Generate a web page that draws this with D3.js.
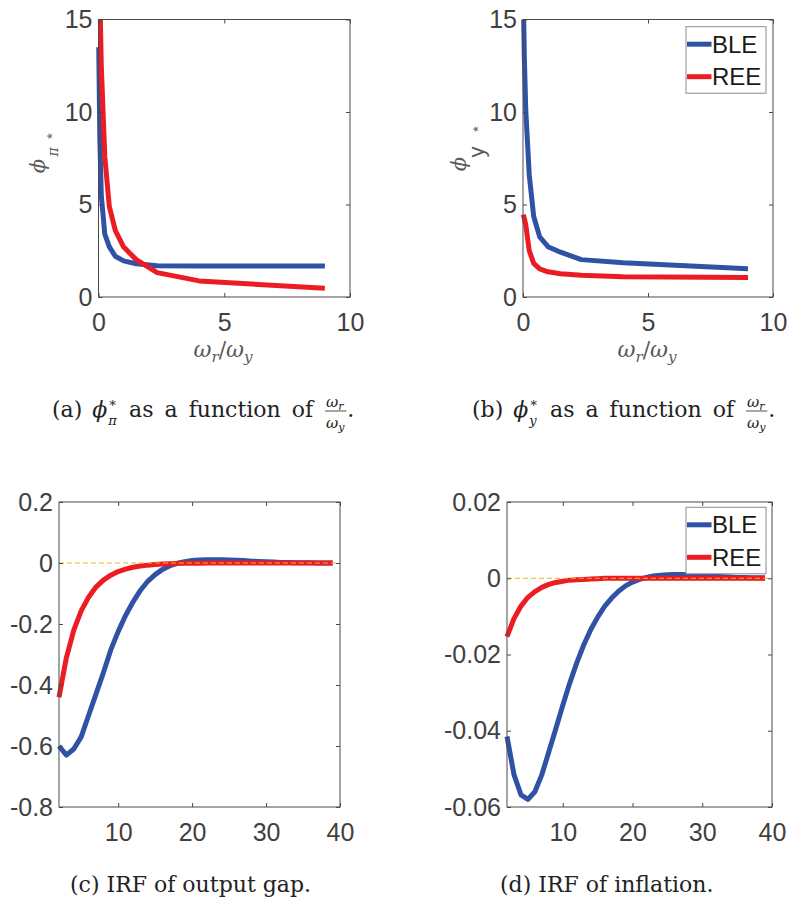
<!DOCTYPE html>
<html>
<head>
<meta charset="utf-8">
<script src="https://cdn.jsdelivr.net/npm/d3@7"></script>
<style>
  body { margin: 0; background: #fff; }
  text { fill: #404040; white-space: pre; }
</style>
</head>
<body>
<svg id="fig" width="788" height="904"></svg>
<script>
// omega_r / omega_y grid used in panels (a) and (b)
var ratio = [0.0101, 0.0526, 0.1111, 0.25, 0.4286, 0.6667, 1, 1.5, 2.3333, 4, 9];
var phiPiBLE = [13.5, 8.6, 5.5, 3.4, 2.72, 2.2, 1.95, 1.8, 1.69, 1.67, 1.67];
var phiPiREE = [22, 16.5, 12.5, 7.6, 4.9, 3.6, 2.7, 2.02, 1.32, 0.87, 0.47];
var phiYBLE = [16.5, 13.0, 10.1, 6.6, 4.35, 3.25, 2.72, 2.42, 2.02, 1.85, 1.53];
var phiYREE = [4.45, 4.25, 3.9, 2.5, 1.82, 1.52, 1.36, 1.26, 1.17, 1.1, 1.05];

// impulse responses, panels (c) and (d)
var periods = [2, 3, 4, 5, 6, 7, 8, 9, 10, 11, 12, 13, 14, 15, 16, 17, 18, 19, 20,
  21, 22, 23, 24, 25, 26, 27, 28, 29, 30, 31, 32, 33, 34, 35, 36, 37, 38, 39];
var gapBLE = [-0.60, -0.63, -0.61, -0.57, -0.50, -0.43, -0.36, -0.285, -0.225, -0.172, -0.128,
  -0.09, -0.06, -0.038, -0.021, -0.009, -0.001, 0.004, 0.008, 0.010, 0.011, 0.011, 0.011,
  0.010, 0.009, 0.008, 0.006, 0.005, 0.004, 0.003, 0.002, 0.002, 0.001, 0.001, 0.001, 0, 0, 0];
var gapREE = [-0.44, -0.31, -0.22, -0.157, -0.112, -0.079, -0.056, -0.040, -0.028, -0.020,
  -0.014, -0.010, -0.007, -0.005, -0.0035, -0.0025, -0.0018, -0.0012, -0.0009, -0.0006,
  -0.0004, -0.0002, 0, 0, 0, 0, 0, 0, 0, 0, 0, 0, 0, 0, 0, 0, 0, 0];
var inflBLE = [-0.0415, -0.0515, -0.0568, -0.0580, -0.0560, -0.0515, -0.0455, -0.0395, -0.0333,
  -0.0275, -0.0222, -0.0175, -0.0135, -0.0102, -0.0074, -0.0052, -0.0034, -0.0020, -0.0010,
  -0.0003, 0.0002, 0.0006, 0.0008, 0.0009, 0.0010, 0.0010, 0.0009, 0.0008, 0.0007, 0.0006,
  0.0005, 0.0004, 0.0003, 0.0002, 0.0002, 0.0001, 0.0001, 0.0001];
var inflREE = [-0.0153, -0.0106, -0.0073, -0.0050, -0.0035, -0.0024, -0.0016, -0.0011, -0.0008,
  -0.0005, -0.0004, -0.0003, -0.0002, -0.0001, 0, 0, 0, 0, 0, 0, 0, 0, 0, 0, 0, 0, 0, 0,
  0, 0, 0, 0, 0, 0, 0, 0, 0, 0];

var seriesNames = ['BLE', 'REE'];
var ratioTicks = [0, 5, 10];
var phiTicks = [0, 5, 10, 15];
var periodTicks = [10, 20, 30, 40];
var gapTicks = [0.2, 0, -0.2, -0.4, -0.6, -0.8];
var inflTicks = [0.02, 0, -0.02, -0.04, -0.06];

var blue = '#2f52a5', red = '#ec1c24', zeroCol = '#edb120', boxCol = '#4a4a4a';
var svg = d3.select('#fig');
var clipId = 0;

function panel(o) {
  var w = o.right - o.left, h = o.bottom - o.top;
  var g = svg.append('g').attr('transform', 'translate(' + o.left + ',' + o.top + ')');
  var x = d3.scaleLinear().domain(o.xdom).range([0, w]);
  var y = d3.scaleLinear().domain(o.ydom).range([h, 0]);

  clipId++;
  g.append('clipPath').attr('id', 'clip' + clipId)
    .append('rect').attr('x', -4).attr('y', 0).attr('width', w + 8).attr('height', h);

  var line = d3.line().x(function (d) { return x(d[0]); }).y(function (d) { return y(d[1]); });
  o.series.forEach(function (s) {
    g.append('path')
      .datum(d3.zip(o.xs, s.v))
      .attr('clip-path', 'url(#clip' + clipId + ')')
      .attr('d', line)
      .style('fill', 'none')
      .style('stroke', s.c)
      .style('stroke-width', 5)
      .style('stroke-linejoin', 'round');
  });
  if (o.zero) {
    g.append('line')
      .attr('x1', 0).attr('x2', w).attr('y1', y(0)).attr('y2', y(0))
      .style('stroke', zeroCol).style('stroke-width', 1).style('stroke-dasharray', '5,3');
  }

  var fmt = function (d) { return String(d); };
  g.append('g').attr('transform', 'translate(0,' + h + ')')
    .call(d3.axisBottom(x).tickValues(o.xticks).tickFormat(fmt).tickSizeInner(-4).tickSizeOuter(0).tickPadding(16));
  g.append('g')
    .call(d3.axisLeft(y).tickValues(o.yticks).tickFormat(fmt).tickSizeInner(-4).tickSizeOuter(0).tickPadding(6));
  g.append('g').call(d3.axisTop(x).tickValues(o.xticks).tickFormat('').tickSizeInner(-4).tickSizeOuter(0));
  g.append('g').attr('transform', 'translate(' + w + ',0)')
    .call(d3.axisRight(y).tickValues(o.yticks).tickFormat('').tickSizeInner(-4).tickSizeOuter(0));
  g.selectAll('.domain').remove();
  g.selectAll('.tick line').style('stroke', boxCol);
  g.selectAll('.tick text')
    .style('font-family', '"Liberation Sans", Arial, sans-serif')
    .style('font-size', '25px')
    .style('fill', '#404040');
  g.append('rect').attr('width', w).attr('height', h)
    .style('fill', 'none').style('stroke', boxCol).style('stroke-width', 1);

  if (o.legend) {
    var lg = svg.append('g').attr('transform', 'translate(' + o.legend[0] + ',' + o.legend[1] + ')');
    lg.append('rect').attr('width', 80).attr('height', 66.5)
      .style('fill', '#fff').style('stroke', '#8c8c8c').style('stroke-width', 1);
    o.series.forEach(function (s, i) {
      var yy = 17.5 + i * 32.5;
      lg.append('line').attr('x1', 1).attr('x2', 25.5).attr('y1', yy).attr('y2', yy)
        .style('stroke', s.c).style('stroke-width', 5);
      lg.append('text').attr('x', 26).attr('y', yy + 8.7).text(seriesNames[i])
        .style('font-family', '"Liberation Sans", Arial, sans-serif')
        .style('font-size', '24px').style('fill', '#1a1a1a');
    });
  }
  return g;
}

panel({ left: 98.5, right: 350, top: 19.5, bottom: 297, xdom: [0, 10], ydom: [0, 15],
  xs: ratio, xticks: ratioTicks, yticks: phiTicks,
  series: [{ v: phiPiBLE, c: blue }, { v: phiPiREE, c: red }] });
panel({ left: 523, right: 773, top: 19.5, bottom: 297, xdom: [0, 10], ydom: [0, 15],
  xs: ratio, xticks: ratioTicks, yticks: phiTicks, legend: [686, 26.7],
  series: [{ v: phiYBLE, c: blue }, { v: phiYREE, c: red }] });
panel({ left: 59, right: 340, top: 502, bottom: 807, xdom: [2, 40], ydom: [-0.8, 0.2],
  xs: periods, xticks: periodTicks, yticks: gapTicks, zero: true,
  series: [{ v: gapBLE, c: blue }, { v: gapREE, c: red }] });
panel({ left: 507, right: 772, top: 502, bottom: 807, xdom: [2, 40], ydom: [-0.06, 0.02],
  xs: periods, xticks: periodTicks, yticks: inflTicks, zero: true, legend: [686, 507.3],
  series: [{ v: inflBLE, c: blue }, { v: inflREE, c: red }] });

// rotated y labels, one glyph at a time
function glyph(cx, cy, str, size, fam, style) {
  svg.append('text')
    .attr('transform', 'translate(' + cx + ',' + cy + ') rotate(-90)')
    .attr('text-anchor', 'middle').attr('dominant-baseline', 'central')
    .text(str)
    .style('font-family', fam).style('font-size', size + 'px').style('font-style', style)
    .style('fill', '#5a5a5a');
}
var serif = '"DejaVu Serif", serif', sans = '"Liberation Sans", Arial, sans-serif';
glyph(38, 166, 'ϕ', 21, serif, 'italic');
glyph(53, 152, 'π', 14, serif, 'italic');
glyph(51, 136, '*', 15, sans, 'normal');
glyph(459, 164, 'ϕ', 21, serif, 'italic');
glyph(476, 152, 'y', 22, sans, 'normal');
glyph(477, 129, '*', 15, sans, 'normal');

// x labels
[223, 647].forEach(function (cx) {
  var t = svg.append('text').attr('x', cx).attr('y', 357).attr('text-anchor', 'middle')
    .style('font-family', serif).style('font-size', '22px').style('font-style', 'italic')
    .style('fill', '#5a5a5a');
  t.append('tspan').text('ω');
  t.append('tspan').text('r').attr('dy', 5).style('font-size', '15px');
  t.append('tspan').text('/').attr('dy', -5).style('font-style', 'normal');
  t.append('tspan').text('ω');
  t.append('tspan').text('y').attr('dy', 5).style('font-size', '15px');
});

// captions
var capSize = 22;
function seg(x, y, str, size, italic, spacing) {
  var t = svg.append('text').attr('x', x).attr('y', y)
    .attr('xml:space', 'preserve')
    .text(str)
    .style('font-family', serif).style('font-size', size + 'px')
    .style('font-style', italic ? 'italic' : 'normal').style('fill', '#222');
  if (spacing) t.style('word-spacing', spacing + 'px');
  return t.node().getComputedTextLength();
}
function caption(x, y, label, sub) {
  var cx = x;
  cx += seg(cx, y, label + ' ', capSize, false, 3);
  cx += seg(cx, y, 'ϕ', capSize, true);
  var w1 = seg(cx + 1, y - 10, '∗', 13, false);
  var w2 = seg(cx + 1, y + 8, sub, 13, true);
  cx += Math.max(w1, w2) + 2;
  cx += seg(cx, y, ' as a function of ', capSize, false, 4);
  // fraction omega_r / omega_y
  var nw = seg(cx + 2, y - 10, 'ω', 15, true);
  seg(cx + 2 + nw, y - 7, 'r', 11, true);
  var dw = seg(cx + 2, y + 11, 'ω', 15, true);
  seg(cx + 2 + dw, y + 14, 'y', 11, true);
  var fw = Math.max(nw, dw) + 9;
  svg.append('line').attr('x1', cx + 1).attr('x2', cx + 1 + fw).attr('y1', y - 6).attr('y2', y - 6)
    .style('stroke', '#222').style('stroke-width', 0.8);
  seg(cx + fw + 2, y, '.', capSize, false);
}
caption(52, 417, '(a)', 'π');
caption(472, 417, '(b)', 'y');
seg(70, 892, '(c) IRF of output gap.', capSize, false);
seg(500, 892, '(d) IRF of inflation.', capSize, false);
</script>
</body>
</html>
